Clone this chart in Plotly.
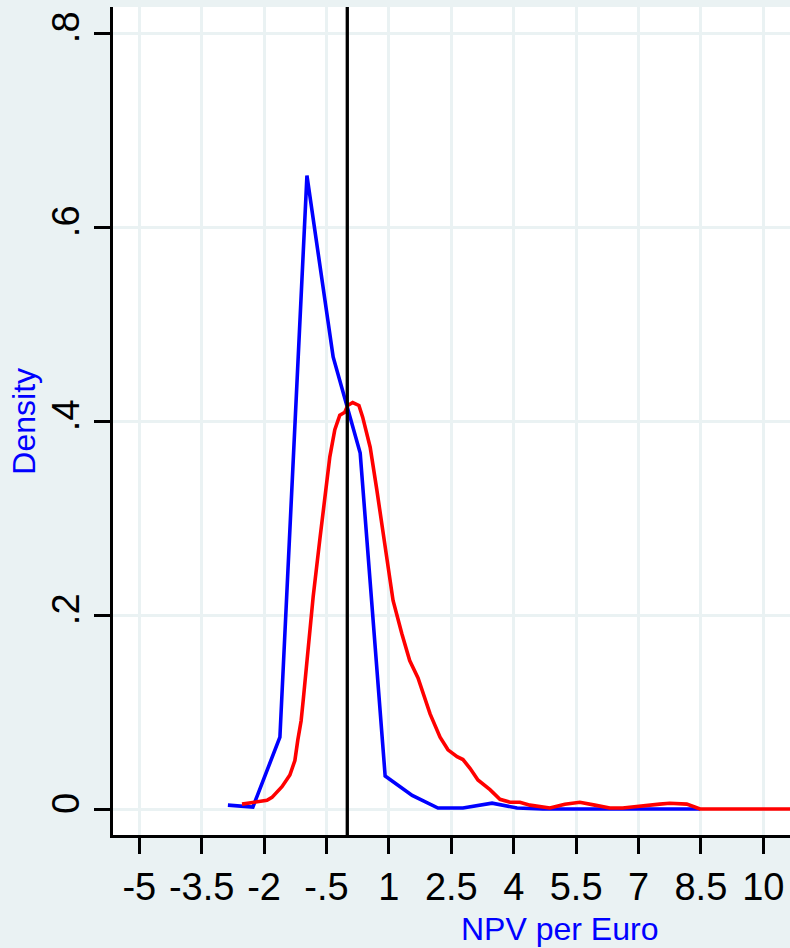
import plotly.graph_objects as go

# Blue density (coarse)
blue_x = [-2.87, -2.27, -1.62, -0.97, -0.34, 0.31, 0.91, 1.56, 2.18, 2.78, 3.48, 4.08,
          4.70, 5.32, 5.94, 6.56, 7.18, 7.80, 8.48]
blue_y = [0.004, 0.002, 0.074, 0.653, 0.466, 0.367, 0.034, 0.014, 0.001, 0.001, 0.006, 0.001,
          0.000, 0.000, 0.000, 0.000, 0.000, 0.000, 0.000]

# Red density (smooth)
red_x = [-2.53, -2.27, -1.93, -1.81, -1.57, -1.38, -1.26, -1.19, -1.11, -1.06, -0.82, -0.66,
         -0.54, -0.42, -0.30, -0.18, -0.06, 0.01, 0.13, 0.28, 0.37, 0.55, 0.71, 0.86, 1.02,
         1.10, 1.31, 1.50, 1.70, 1.99, 2.23, 2.42, 2.64, 2.78, 2.95, 3.14, 3.43, 3.67, 3.91,
         4.15, 4.39, 4.87, 5.23, 5.59, 5.95, 6.31, 6.62, 7.20, 7.51, 7.75, 8.16, 8.48, 9.0,
         10.0, 11.0]
red_y = [0.005, 0.007, 0.009, 0.012, 0.023, 0.035, 0.050, 0.071, 0.091, 0.112, 0.219, 0.278,
         0.322, 0.363, 0.391, 0.406, 0.409, 0.416, 0.419, 0.416, 0.404, 0.373, 0.329, 0.287,
         0.243, 0.215, 0.181, 0.153, 0.135, 0.098, 0.074, 0.061, 0.054, 0.051, 0.042, 0.030,
         0.020, 0.010, 0.007, 0.007, 0.004, 0.001, 0.005, 0.007, 0.004, 0.001, 0.001, 0.003,
         0.005, 0.006, 0.005, 0.000, 0.000, 0.000, 0.000]

x_ticks = [-5, -3.5, -2, -0.5, 1, 2.5, 4, 5.5, 7, 8.5, 10]
x_labels = ["-5", "-3.5", "-2", "-.5", "1", "2.5", "4", "5.5", "7", "8.5", "10"]
y_ticks = [0, 0.2, 0.4, 0.6, 0.8]
y_labels = ["0", ".2", ".4", ".6", ".8"]
ref_line_x = 0

BG = "#EAF2F3"
FONT = "Liberation Sans, Arial, sans-serif"

fig = go.Figure()
fig.add_trace(go.Scatter(x=blue_x, y=blue_y, mode="lines",
                         line=dict(color="#0000FF", width=3.6), showlegend=False))
fig.add_trace(go.Scatter(x=red_x, y=red_y, mode="lines",
                         line=dict(color="#FF0000", width=3.6), showlegend=False))

fig.add_shape(type="line", xref="x", yref="paper", x0=ref_line_x, x1=ref_line_x,
              y0=0, y1=1, line=dict(color="black", width=3.3), layer="above")

fig.update_layout(
    width=790, height=948,
    margin=dict(l=113, r=0, t=7, b=113),
    paper_bgcolor=BG, plot_bgcolor="white",
    font=dict(family=FONT, color="black"),
    xaxis=dict(range=[-5.632, 10.642], tickvals=x_ticks, ticktext=x_labels,
               showgrid=True, gridcolor=BG, gridwidth=3.3, zeroline=False,
               showline=True, linecolor="black", linewidth=3,
               ticks="outside", ticklen=16, tickwidth=2.7, tickcolor="black",
               tickfont=dict(size=38, family=FONT, color="black")),
    yaxis=dict(range=[-0.0268, 0.8268], tickvals=y_ticks, ticktext=y_labels,
               showgrid=True, gridcolor=BG, gridwidth=3.3, zeroline=False,
               showline=True, linecolor="black", linewidth=3,
               ticks="outside", ticklen=16, tickwidth=2.7, tickcolor="black",
               tickangle=-90,
               tickfont=dict(size=38, family=FONT, color="black")),
    annotations=[
        dict(text="NPV per Euro", xref="paper", yref="paper", x=0.660, y=-0.1135,
             xanchor="center", yanchor="middle", showarrow=False,
             font=dict(size=32, family=FONT, color="#0000FF")),
        dict(text="Density", xref="paper", yref="paper", x=-0.132, y=0.5,
             xanchor="center", yanchor="middle", showarrow=False, textangle=-90,
             font=dict(size=32, family=FONT, color="#0000FF")),
    ],
)

fig.write_html("out.html")
